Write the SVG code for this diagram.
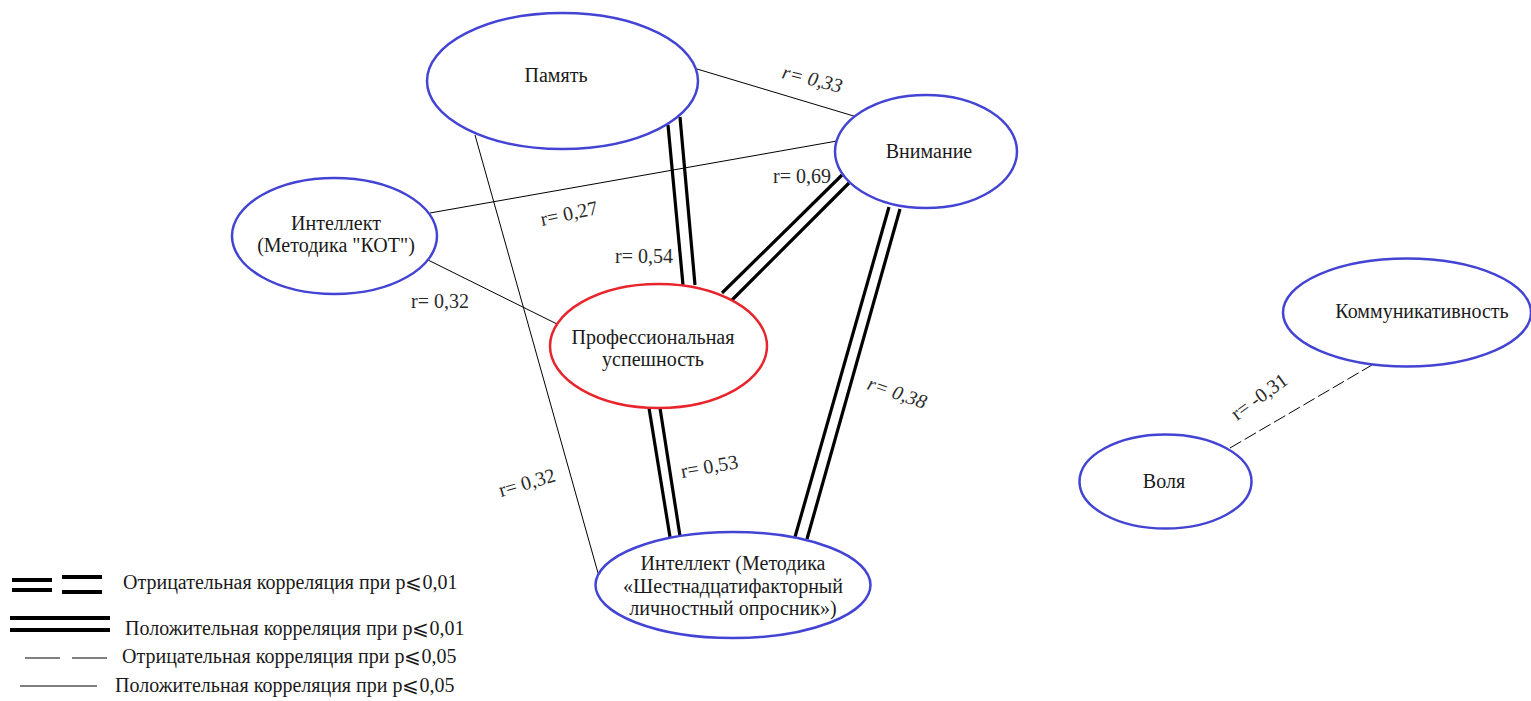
<svg xmlns="http://www.w3.org/2000/svg" width="1531" height="701" viewBox="0 0 1531 701" font-family="Liberation Serif, DejaVu Serif, serif">
<style>
.node{fill:#fff;stroke:#4444d4;stroke-width:2.5}
.red{stroke:#e8242c}
.t{font-size:20px;fill:#1a1a1a;text-anchor:middle}
.lbl{font-size:20px;fill:#2a2a2a}
.it{font-style:italic}
.thin{stroke:#000;stroke-width:1;fill:none}
.dbl{stroke:#000;stroke-width:3.2;fill:none}
.dash{stroke:#000;stroke-width:1;stroke-dasharray:13 4;fill:none}
.leg{font-size:20px;fill:#1a1a1a}
</style>
<rect width="1531" height="701" fill="#fff"/>
<g id="connectors" font-family="Liberation Serif, serif">
<line class="thin" x1="697" y1="69" x2="857" y2="117"/>
<line class="thin" x1="430" y1="213" x2="837" y2="141"/>
<line class="thin" x1="428" y1="260" x2="557" y2="324"/>
<line class="thin" x1="475" y1="135" x2="598" y2="573"/>
<line class="dbl" x1="668" y1="125" x2="683" y2="285"/>
<line class="dbl" x1="680" y1="117" x2="695" y2="285"/>
<line class="dbl" x1="842" y1="175" x2="722" y2="293"/>
<line class="dbl" x1="849" y1="183" x2="732" y2="300"/>
<line class="dbl" x1="889" y1="207" x2="795" y2="537"/>
<line class="dbl" x1="900" y1="209" x2="807" y2="539"/>
<line class="dbl" x1="649" y1="408" x2="670" y2="537"/>
<line class="dbl" x1="660" y1="408" x2="680" y2="536"/>
<line class="dash" x1="1230" y1="448" x2="1372" y2="365"/>
<text class="lbl it" transform="translate(781,78) rotate(14)">r= 0,33</text>
<text class="lbl" x="773" y="183">r= 0,69</text>
<text class="lbl" transform="translate(542,226) rotate(-12)">r= 0,27</text>
<text class="lbl" x="615" y="263">r= 0,54</text>
<text class="lbl" x="411" y="308">r= 0,32</text>
<text class="lbl" transform="translate(501,497) rotate(-16)">r= 0,32</text>
<text class="lbl" transform="translate(682,478) rotate(-10)">r= 0,53</text>
<text class="lbl it" transform="translate(866,389) rotate(19)">r= 0,38</text>
<text class="lbl" transform="translate(1237,421) rotate(-36)">r= -0,31</text>
</g>
<g id="node-pamyat" font-family="Liberation Serif, serif">
<ellipse class="node" cx="562.5" cy="81" rx="135.5" ry="68"/>
<text class="t" x="556" y="82">Память</text>
</g>
<g id="node-vnimanie" font-family="Liberation Serif, serif">
<ellipse class="node" cx="926" cy="151.5" rx="91" ry="56.5"/>
<text class="t" x="929" y="158">Внимание</text>
</g>
<g id="node-kot" font-family="Liberation Serif, serif">
<ellipse class="node" cx="334.5" cy="236" rx="102.5" ry="58"/>
<text class="t" x="336" y="230">Интеллект</text>
<text class="t" x="336" y="252">(Методика "КОТ")</text>
</g>
<g id="node-prof" font-family="Liberation Serif, serif">
<ellipse class="node red" cx="658.5" cy="346" rx="108.5" ry="62"/>
<text class="t" x="653" y="344">Профессиональная</text>
<text class="t" x="653" y="366">успешность</text>
</g>
<g id="node-16pf" font-family="Liberation Serif, serif">
<ellipse class="node" cx="733" cy="585" rx="137.5" ry="53"/>
<text class="t" x="733" y="570">Интеллект (Методика</text>
<text class="t" x="733" y="593">«Шестнадцатифакторный</text>
<text class="t" x="733" y="615">личностный опросник»)</text>
</g>
<g id="node-komm" font-family="Liberation Serif, serif">
<ellipse class="node" cx="1407" cy="312.5" rx="124" ry="54"/>
<text class="t" x="1422" y="318">Коммуникативность</text>
</g>
<g id="node-volya" font-family="Liberation Serif, serif">
<ellipse class="node" cx="1165.5" cy="481.5" rx="86" ry="47"/>
<text class="t" x="1164" y="488">Воля</text>
</g>
<g id="legend" font-family="Liberation Serif, serif">
<line stroke="#000" stroke-width="4" x1="12" y1="580" x2="52" y2="580"/>
<line stroke="#000" stroke-width="4" x1="12" y1="590" x2="52" y2="590"/>
<line stroke="#000" stroke-width="4" x1="62" y1="577" x2="102" y2="577"/>
<line stroke="#000" stroke-width="4" x1="62" y1="592" x2="102" y2="592"/>
<text class="leg" x="123" y="589">Отрицательная корреляция при p⩽0,01</text>
<line stroke="#000" stroke-width="4" x1="10" y1="618" x2="110" y2="618"/>
<line stroke="#000" stroke-width="4" x1="10" y1="630" x2="110" y2="630"/>
<text class="leg" x="125" y="635">Положительная корреляция при p⩽0,01</text>
<line stroke="#000" stroke-width="1" x1="25" y1="658" x2="60" y2="658"/>
<line stroke="#000" stroke-width="1" x1="72" y1="658" x2="107" y2="658"/>
<text class="leg" x="122" y="663">Отрицательная корреляция при p⩽0,05</text>
<line stroke="#000" stroke-width="1" x1="20" y1="686" x2="97" y2="686"/>
<text class="leg" x="115" y="692">Положительная корреляция при p⩽0,05</text>
</g>
</svg>
